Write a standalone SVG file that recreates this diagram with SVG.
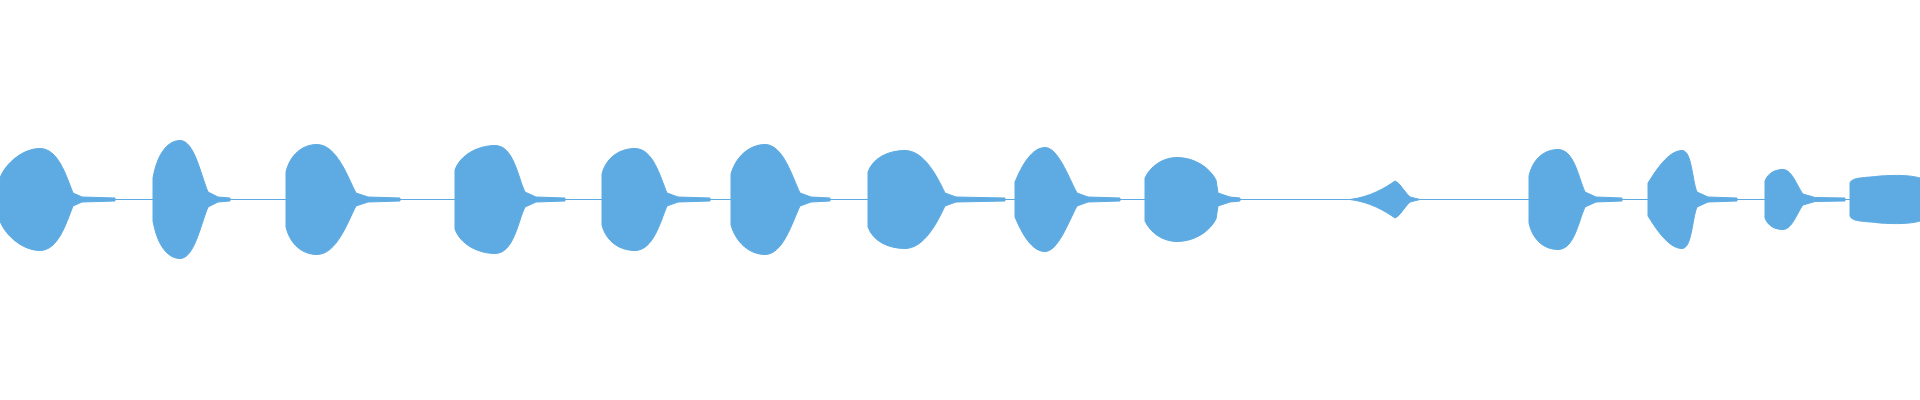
<svg xmlns="http://www.w3.org/2000/svg" xmlns:xlink="http://www.w3.org/1999/xlink" width="1920" height="400" viewBox="0 0 1920 400">
<style>.w{fill:#5dabe2;stroke:#5dabe2;stroke-width:1}</style>
<rect width="1920" height="400" fill="#fff"/>
<defs>
<g id="top" class="w">
<path d="M0,199.5 L0,178 C6,162 24,148.5 40,148.5 C58,148.5 66,175 73,193 L82,197 L115,198 L115,199.5 Z"/>
<path d="M153,199.5 L153,178 C157,155 167,140.5 180,140.5 C194,140.5 200,172 208,192 L218,197 L230,198 L230,199.5 Z"/>
<path d="M286,199.5 L286,172 C290,155 302,144.5 317,144.5 C337,144.5 348,178 356,193 L368,197 L400,198 L400,199.5 Z"/>
<path d="M455,199.5 L455,170 C460,155 478,145.5 495,145.5 C514,145.5 518,178 525,192 L536,197 L565,198 L565,199.5 Z"/>
<path d="M602,199.5 L602,174 C606,158 619,148.5 635,148.5 C653,148.5 660,176 667,193 L678,197 L710,198 L710,199.5 Z"/>
<path d="M731,199.5 L731,174 C736,156 750,144.5 765,144.5 C783,144.5 792,176 800,193 L811,197 L830,198 L830,199.5 Z"/>
<path d="M868,199.5 L868,172 C873,158 888,150.5 905,150.5 C924,150.5 937,176 945,193 L956,197 L1005,198 L1005,199.5 Z"/>
<path d="M1015,199.5 L1015,182 C1022,165 1032,147.5 1045,147.5 C1058,147.5 1068,176 1077,193 L1088,197 L1120,198 L1120,199.5 Z"/>
<path d="M1145,199.5 L1145,178 C1150,167 1162,157.5 1177,157.5 C1195,157.5 1210,168 1216,180 L1218,193 L1230,197 L1240,198 L1240,199.5 Z"/>
<path d="M1350,199.5 C1370,197 1385,188 1395,181 C1400,183 1403,190 1410,197 L1420,199.5 Z"/>
<path d="M1529,199.5 L1529,176 C1533,158 1545,149.5 1558,149.5 C1574,149.5 1578,176 1585,192 L1596,197 L1622,198 L1622,199.5 Z"/>
<path d="M1648,199.5 L1648,183 C1655,172 1668,150.5 1682,150.5 C1692,150.5 1692,180 1697,192 L1708,197 L1737,198 L1737,199.5 Z"/>
<path d="M1765,199.5 L1765,181 C1768,173 1775,169.5 1783,169.5 C1792,169.5 1797,186 1803,194 L1815,197.5 L1845,198 L1845,199.5 Z"/>
<path d="M1850,199.5 L1850,183 C1852,177 1865,178 1880,176 C1895,175 1910,175 1920,178 L1920,199.5 Z"/>
</g>
</defs>
<line x1="0" y1="199.5" x2="1920" y2="199.5" stroke="#5dabe2" stroke-width="1"/>
<use xlink:href="#top"/>
<use xlink:href="#top" transform="translate(0,399) scale(1,-1)"/>
</svg>
